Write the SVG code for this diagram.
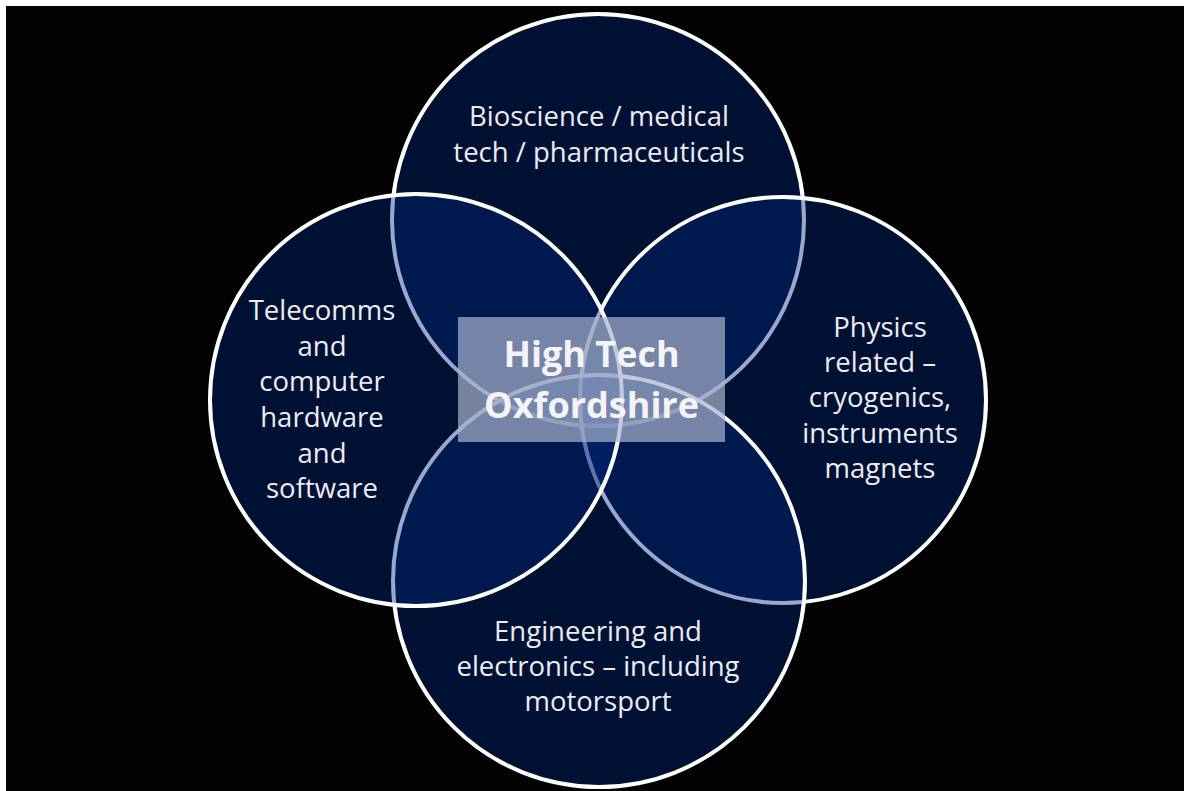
<svg xmlns="http://www.w3.org/2000/svg" width="1184" height="791" viewBox="0 0 1184 791">
<style>
.c{fill:#00287d;fill-opacity:0.4;stroke:#ffffff;stroke-width:4}
.t{font-family:"Open Sans","Liberation Sans",sans-serif;font-size:27.5px;fill:#ececf2;text-anchor:middle}
.h{font-family:"Open Sans","Liberation Sans",sans-serif;font-size:36px;font-weight:bold;fill:#f4f4f8;text-anchor:middle}
</style>
<rect x="0" y="0" width="1184" height="791" fill="#ffffff"/>
<rect x="6" y="6" width="1178" height="785" fill="#030303"/>
<g id="connectors"/>
<g id="bio">
<circle class="c" cx="598" cy="220" r="206"/>
<text class="t" x="599" y="126">Bioscience / medical</text>
<text class="t" x="599" y="162">tech / pharmaceuticals</text>
</g>
<g id="physics">
<circle class="c" cx="783" cy="400" r="203"/>
</g>
<g id="engineering">
<circle class="c" cx="599" cy="581" r="206"/>
</g>
<g id="telecomms">
<circle class="c" cx="416" cy="400" r="206"/>
</g>
<g id="physics-text">
<text class="t" x="880" y="337">Physics</text>
<text class="t" x="880" y="372">related –</text>
<text class="t" x="880" y="407">cryogenics,</text>
<text class="t" x="880" y="443">instruments</text>
<text class="t" x="880" y="478">magnets</text>
</g>
<g id="engineering-text">
<text class="t" x="598" y="641">Engineering and</text>
<text class="t" x="598" y="676">electronics – including</text>
<text class="t" x="598" y="711">motorsport</text>
</g>
<g id="telecomms-text">
<text class="t" x="322" y="320">Telecomms</text>
<text class="t" x="322" y="356">and</text>
<text class="t" x="322" y="391">computer</text>
<text class="t" x="322" y="427">hardware</text>
<text class="t" x="322" y="463">and</text>
<text class="t" x="322" y="498">software</text>
</g>
<g id="center">
<rect x="458" y="317" width="267" height="125" fill="#a8b4cc" fill-opacity="0.7"/>
<text class="h" x="591.5" y="367">High Tech</text>
<text class="h" x="591.5" y="418">Oxfordshire</text>
</g>
</svg>
